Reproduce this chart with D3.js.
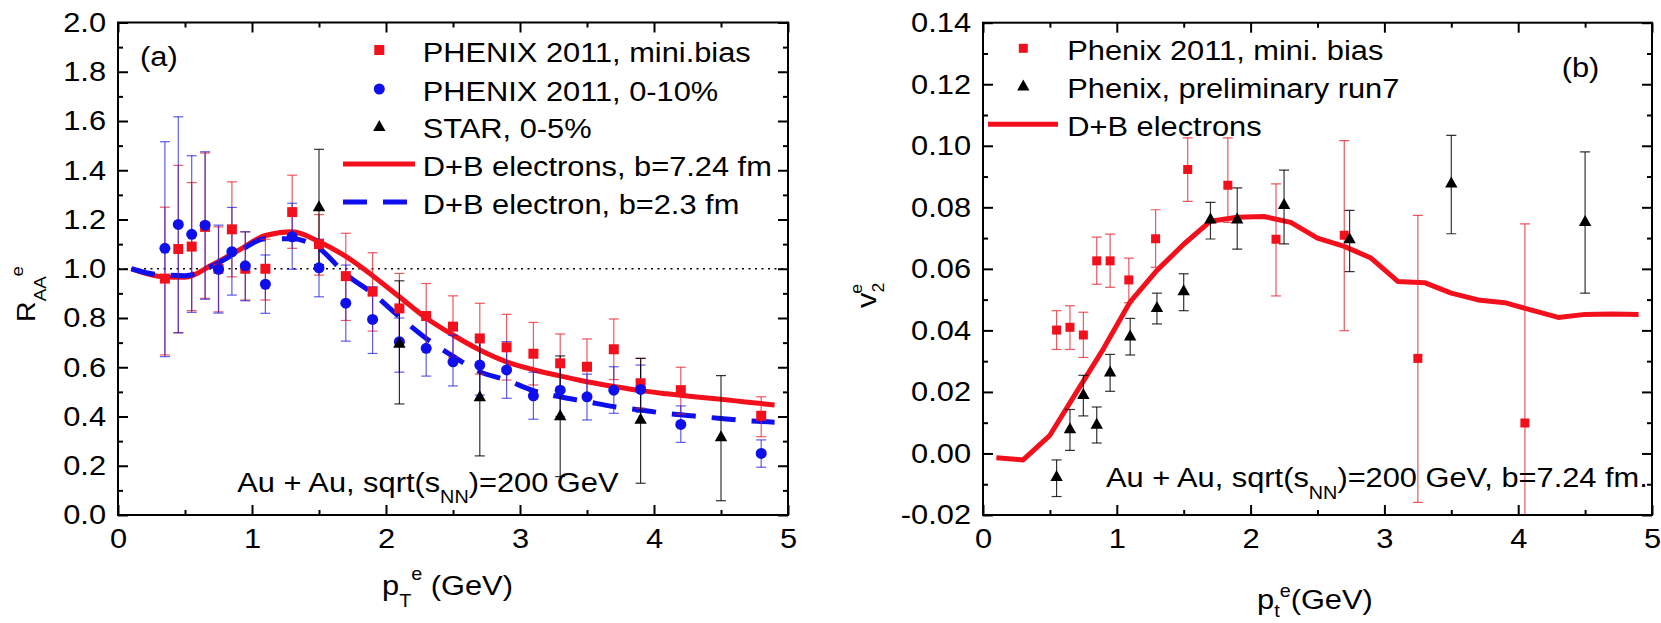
<!DOCTYPE html>
<html><head>
<meta charset="utf-8">
<title>Heavy flavour electrons: RAA and v2</title>
<script src="https://d3js.org/d3.v7.min.js"></script>
<style>
  body { margin: 0; background: #fff; }
  svg text { font-family: "Liberation Sans", Arial, Helvetica, sans-serif; fill: #000; }
</style>
</head>
<body>
<svg id="chart" width="1661" height="623"></svg>

<script>
// ---------- panel (a): R_AA of electrons ----------
const ptMB = [0.35,0.45,0.55,0.65,0.75,0.85,0.95,1.10,1.30,1.50,1.70,1.90,2.10,2.30,2.50,2.70,2.90,3.10,3.30,3.50,3.70,3.90,4.20,4.80];
const raaMB   = [0.96,1.08,1.09,1.17,1.00,1.16,1.00,1.00,1.23,1.10,0.97,0.907,0.839,0.808,0.765,0.717,0.681,0.655,0.616,0.602,0.673,0.535,0.507,0.403];
const raaMBlo = [0.65,0.74,0.83,0.88,0.825,0.967,0.873,0.873,1.083,0.974,0.79,0.747,0.70,0.68,0.64,0.572,0.548,0.528,0.498,0.49,0.55,0.434,0.41,0.318];
const raaMBhi = [1.25,1.42,1.35,1.47,1.17,1.353,1.15,1.12,1.38,1.22,1.144,1.065,0.981,0.94,0.89,0.86,0.815,0.782,0.735,0.715,0.796,0.636,0.60,0.48];

const ptCen = [0.35,0.45,0.55,0.65,0.75,0.85,0.95,1.10,1.30,1.50,1.70,1.90,2.10,2.30,2.50,2.70,2.90,3.10,3.30,3.50,3.70,3.90,4.20,4.80];
const raaCen   = [1.083,1.18,1.14,1.177,0.998,1.069,1.012,0.937,1.13,1.004,0.86,0.794,0.704,0.677,0.622,0.609,0.589,0.484,0.507,0.48,0.507,0.51,0.368,0.25];
const raaCenlo = [0.643,0.74,0.823,0.876,0.82,0.893,0.87,0.819,0.998,0.886,0.706,0.656,0.58,0.564,0.524,0.487,0.474,0.389,0.40,0.386,0.413,0.417,0.295,0.194];
const raaCenhi = [1.516,1.617,1.459,1.475,1.177,1.249,1.15,1.056,1.266,1.12,1.015,0.927,0.80,0.79,0.73,0.72,0.704,0.58,0.62,0.572,0.602,0.609,0.443,0.305];

const ptStar = [1.5,2.1,2.7,3.3,3.9,4.5];
const raaStar   = [1.252,0.697,0.48,0.403,0.389,0.318];
const raaStarlo = [1.017,0.451,0.24,0.156,0.129,0.058];
const raaStarhi = [1.485,0.951,0.72,0.646,0.636,0.566];

const ptCurve = [0.1,0.3,0.5,0.7,0.9,1.1,1.3,1.5,1.7,1.9,2.1,2.3,2.5,2.7,2.9,3.1,3.3,3.5,3.7,3.9,4.1,4.3,4.5,4.7,4.9];
const raaB724 = [1.0,0.97,0.965,1.015,1.075,1.135,1.15,1.11,1.05,0.972,0.886,0.80,0.731,0.67,0.622,0.59,0.565,0.541,0.522,0.505,0.492,0.48,0.47,0.458,0.447];
const raaB23  = [1.0,0.976,0.972,1.01,1.07,1.122,1.122,1.083,0.978,0.90,0.805,0.717,0.645,0.582,0.548,0.505,0.48,0.46,0.44,0.426,0.412,0.402,0.392,0.383,0.377];

const legendA = ["PHENIX 2011, mini.bias", "PHENIX 2011, 0-10%", "STAR, 0-5%", "D+B electrons, b=7.24 fm", "D+B electron, b=2.3 fm"];

// ---------- panel (b): v2 of electrons ----------
const ptV2MB = [0.55,0.65,0.75,0.85,0.95,1.09,1.29,1.53,1.83,2.19,2.70,3.25,4.05];
const v2MB   = [0.0401,0.0410,0.0385,0.0626,0.0626,0.0564,0.0698,0.0923,0.0872,0.0696,0.0709,0.0309,0.0099];
const v2MBlo = [0.0338,0.0338,0.0312,0.0550,0.0540,0.0490,0.0605,0.0819,0.0751,0.0512,0.0399,-0.0159,-0.0548];
const v2MBhi = [0.0464,0.0480,0.0459,0.0703,0.0713,0.0635,0.0792,0.1026,0.1026,0.0876,0.1017,0.0774,0.0746];

const ptRun7 = [0.55,0.65,0.75,0.85,0.95,1.10,1.30,1.50,1.70,1.90,2.25,2.74,3.50,4.50];
const v2Run7   = [-0.0075,0.0080,0.0192,0.0095,0.0265,0.0382,0.0474,0.0529,0.0762,0.0762,0.0809,0.0698,0.0879,0.0754];
const v2Run7lo = [-0.0140,0.0010,0.0122,0.0034,0.0202,0.0320,0.0421,0.0464,0.0697,0.0664,0.0681,0.0591,0.0714,0.0521];
const v2Run7hi = [-0.0021,0.0143,0.0254,0.0151,0.0322,0.0439,0.0521,0.0584,0.0816,0.0863,0.0921,0.0790,0.1034,0.0980];

const v2Curve = [-0.0014,-0.0021,0.0059,0.020,0.034,0.0493,0.0595,0.068,0.0755,0.0768,0.0770,0.0751,0.0700,0.0673,0.0635,0.0559,0.0555,0.0521,0.0499,0.0490,0.0466,0.0442,0.0452,0.0453,0.0452];

const legendB = ["Phenix 2011, mini. bias", "Phenix, preliminary run7", "D+B electrons"];

// ticks
const xMajor = [0,1,2,3,4,5];
const xMinor = [0.5,1.5,2.5,3.5,4.5];
const yMajorA = [0,0.2,0.4,0.6,0.8,1.0,1.2,1.4,1.6,1.8,2.0];
const yMinorA = [0.1,0.3,0.5,0.7,0.9,1.1,1.3,1.5,1.7,1.9];
const yMajorB = [-0.02,0,0.02,0.04,0.06,0.08,0.10,0.12,0.14];
const yMinorB = [-0.01,0.01,0.03,0.05,0.07,0.09,0.11,0.13];

const RED = "#f2101c", BLUE = "#0f0fee";
const SX = 1.1;   // text in the figure is a bit wide

const svg = d3.select("#chart");
svg.append("rect").attr("width", 1661).attr("height", 623).attr("fill", "#fff");

const xa = d3.scaleLinear().domain([0, 5]).range([118, 788]);
const ya = d3.scaleLinear().domain([0, 2]).range([515, 22.5]);
const xb = d3.scaleLinear().domain([0, 5]).range([983, 1652]);
const yb = d3.scaleLinear().domain([-0.02, 0.14]).range([515, 22.7]);

// text with sub/superscripts
function richText(parent, x, y, parts, o = {}) {
  const size = o.size || 28, small = o.small || 18;
  const g = parent.append("g")
    .attr("transform", `translate(${x},${y})` + (o.rotate ? " rotate(-90)" : "") + ` scale(${SX},1)`);
  const t = g.append("text").attr("font-size", size).attr("text-anchor", o.anchor || "start");
  let cur = 0;
  parts.forEach(p => {
    const shift = p.sub ? (o.sub || 11) : p.sup ? -(o.sup || 13) : 0;
    const ts = t.append("tspan").attr("dy", shift - cur).text(p.t);
    if (p.sub || p.sup) ts.attr("font-size", small);
    if (p.dx) ts.attr("dx", p.dx);
    cur = shift;
  });
  return g;
}

function drawAxes(x, y, yMajor, yMinor, yFmt) {
  const [x0, x1] = x.range(), [y0, y1] = y.range();
  const g = svg.append("g");
  const axes = [
    g.append("g").attr("transform", `translate(0,${y0})`)
      .call(d3.axisBottom(x).tickValues(xMajor).tickSize(-10).tickPadding(13).tickFormat(d3.format("d"))),
    g.append("g").attr("transform", `translate(0,${y0})`)
      .call(d3.axisBottom(x).tickValues(xMinor).tickSize(-5).tickFormat("")),
    g.append("g").attr("transform", `translate(0,${y1})`)
      .call(d3.axisTop(x).tickValues(xMajor).tickSize(-10).tickFormat("")),
    g.append("g").attr("transform", `translate(0,${y1})`)
      .call(d3.axisTop(x).tickValues(xMinor).tickSize(-5).tickFormat("")),
    g.append("g").attr("transform", `translate(${x0},0)`)
      .call(d3.axisLeft(y).tickValues(yMajor).tickSize(-10).tickPadding(12).tickFormat(yFmt)),
    g.append("g").attr("transform", `translate(${x0},0)`)
      .call(d3.axisLeft(y).tickValues(yMinor).tickSize(-5).tickFormat("")),
    g.append("g").attr("transform", `translate(${x1},0)`)
      .call(d3.axisRight(y).tickValues(yMajor).tickSize(-10).tickFormat("")),
    g.append("g").attr("transform", `translate(${x1},0)`)
      .call(d3.axisRight(y).tickValues(yMinor).tickSize(-5).tickFormat(""))
  ];
  axes.forEach(a => {
    a.attr("font-size", 28);
    a.select(".domain").remove();
    a.selectAll(".tick line").attr("stroke", "#000").attr("stroke-width", 2);
    a.selectAll(".tick text").attr("transform", `scale(${SX},1)`);
  });
  axes[4].selectAll(".tick text").attr("x", -12 / SX);
  g.append("rect").attr("x", x0).attr("y", y1).attr("width", x1 - x0).attr("height", y0 - y1)
    .attr("fill", "none").attr("stroke", "#000").attr("stroke-width", 2);
}

function errorBars(g, x, y, xs, lo, hi, color, op) {
  const d = xs.map((v, i) => [v, lo[i], hi[i]]);
  const e = g.append("g").attr("stroke", color).attr("stroke-width", 1.2).attr("stroke-opacity", op);
  e.selectAll("line.v").data(d).join("line").attr("class", "v")
    .attr("x1", p => x(p[0])).attr("x2", p => x(p[0])).attr("y1", p => y(p[1])).attr("y2", p => y(p[2]));
  e.selectAll("line.lo").data(d).join("line").attr("class", "lo")
    .attr("x1", p => x(p[0]) - 5).attr("x2", p => x(p[0]) + 5).attr("y1", p => y(p[1])).attr("y2", p => y(p[1]));
  e.selectAll("line.hi").data(d).join("line").attr("class", "hi")
    .attr("x1", p => x(p[0]) - 5).attr("x2", p => x(p[0]) + 5).attr("y1", p => y(p[2])).attr("y2", p => y(p[2]));
}

const square = s => `M${-s/2},${-s/2}h${s}v${s}h${-s}Z`;
const triangle = "M0,-6.5L6.2,4.5L-6.2,4.5Z";

function markers(g, x, y, xs, ys, kind, color, size) {
  const d = xs.map((v, i) => [v, ys[i]]);
  const sel = g.append("g").selectAll("path").data(d).join("path")
    .attr("transform", p => `translate(${x(p[0])},${y(p[1])})`).attr("fill", color);
  if (kind === "square") sel.attr("d", square(size));
  else if (kind === "circle") sel.attr("d", d3.symbol(d3.symbolCircle, Math.PI * size * size)());
  else sel.attr("d", triangle);
}

// ================= panel (a) =================
const ga = svg.append("g");
ga.append("line").attr("x1", xa(0)).attr("x2", xa(5)).attr("y1", ya(1)).attr("y2", ya(1))
  .attr("stroke", "#000").attr("stroke-width", 1.6).attr("stroke-dasharray", "2,4.5");

const smooth = (x, y) => d3.line().x(d => x(d[0])).y(d => y(d[1])).curve(d3.curveMonotoneX);
ga.append("path").datum(ptCurve.map((v, i) => [v, raaB724[i]]))
  .attr("d", smooth(xa, ya)).attr("fill", "none").attr("stroke", RED).attr("stroke-width", 5);
ga.append("path").datum(ptCurve.map((v, i) => [v, raaB23[i]]))
  .attr("d", smooth(xa, ya)).attr("fill", "none").attr("stroke", BLUE).attr("stroke-width", 5)
  .attr("stroke-dasharray", "24,16");

errorBars(ga, xa, ya, ptMB, raaMBlo, raaMBhi, "#e8202c", 0.75);
errorBars(ga, xa, ya, ptCen, raaCenlo, raaCenhi, "#1a1ae0", 0.7);
errorBars(ga, xa, ya, ptStar, raaStarlo, raaStarhi, "#000", 0.8);
markers(ga, xa, ya, ptMB, raaMB, "square", RED, 10);
markers(ga, xa, ya, ptCen, raaCen, "circle", BLUE, 5.5);
markers(ga, xa, ya, ptStar, raaStar, "triangle", "#000");

drawAxes(xa, ya, yMajorA, yMinorA, d3.format(".1f"));

// legend (a)
const rowsA = [50, 89, 126.5, 164, 202];
const lgA = svg.append("g");
lgA.append("path").attr("d", square(10)).attr("transform", `translate(379.3,${rowsA[0]})`).attr("fill", RED);
lgA.append("path").attr("d", d3.symbol(d3.symbolCircle, Math.PI * 5.5 * 5.5)()).attr("transform", `translate(379.3,${rowsA[1]})`).attr("fill", BLUE);
lgA.append("path").attr("d", triangle).attr("transform", `translate(379.3,${rowsA[2]})`).attr("fill", "#000");
lgA.append("line").attr("x1", 343).attr("x2", 415).attr("y1", rowsA[3]).attr("y2", rowsA[3]).attr("stroke", RED).attr("stroke-width", 5);
lgA.append("line").attr("x1", 343).attr("x2", 415).attr("y1", rowsA[4]).attr("y2", rowsA[4]).attr("stroke", BLUE).attr("stroke-width", 5).attr("stroke-dasharray", "24,16");
legendA.forEach((s, i) => richText(lgA, 422.7, rowsA[i] + 11.5, [{t: s}]));

richText(svg, 140, 66, [{t: "(a)"}]);
richText(svg, 237.3, 491.7, [{t: "Au + Au, sqrt(s"}, {t: "NN", sub: true}, {t: ")=200 GeV"}], {sub: 11.6});

// axis titles (a)
richText(svg, 382, 595, [{t: "p"}, {t: "T", sub: true}, {t: "e", sup: true}, {t: " (GeV)"}], {sub: 12, sup: 15});
richText(svg, 35, 322, [{t: "R"}, {t: "AA", sub: true}, {t: "e", sup: true}], {rotate: true, size: 26, small: 17, sub: 11, sup: 12});

// ================= panel (b) =================
svg.append("clipPath").attr("id", "clipB").append("rect")
  .attr("x", xb(0)).attr("y", yb(0.14)).attr("width", xb(5) - xb(0)).attr("height", yb(-0.02) - yb(0.14));
const gb = svg.append("g").attr("clip-path", "url(#clipB)");

gb.append("path").datum(ptCurve.map((v, i) => [v, v2Curve[i]]))
  .attr("d", d3.line().x(d => xb(d[0])).y(d => yb(d[1])))
  .attr("fill", "none").attr("stroke", RED).attr("stroke-width", 5).attr("stroke-linejoin", "round");

errorBars(gb, xb, yb, ptV2MB, v2MBlo, v2MBhi, "#e8202c", 0.75);
errorBars(gb, xb, yb, ptRun7, v2Run7lo, v2Run7hi, "#000", 0.8);
markers(gb, xb, yb, ptV2MB, v2MB, "square", RED, 9);
markers(gb, xb, yb, ptRun7, v2Run7, "triangle", "#000");

drawAxes(xb, yb, yMajorB, yMinorB, d => d.toFixed(2));

// legend (b)
const rowsB = [48.3, 86, 124.3];
const lgB = svg.append("g");
lgB.append("path").attr("d", square(9)).attr("transform", `translate(1023.3,${rowsB[0]})`).attr("fill", RED);
lgB.append("path").attr("d", triangle).attr("transform", `translate(1023.3,${rowsB[1]})`).attr("fill", "#000");
lgB.append("line").attr("x1", 988).attr("x2", 1058).attr("y1", rowsB[2]).attr("y2", rowsB[2]).attr("stroke", RED).attr("stroke-width", 5);
legendB.forEach((s, i) => richText(lgB, 1067.3, rowsB[i] + 11.5, [{t: s}]));

richText(svg, 1561.7, 77, [{t: "(b)"}]);
richText(svg, 1106, 487.3, [{t: "Au + Au, sqrt(s"}, {t: "NN", sub: true}, {t: ")=200 GeV, b=7.24 fm."}], {sub: 11.6});

// axis titles (b)
richText(svg, 1257, 609, [{t: "p"}, {t: "t", sub: true}, {t: "e", sup: true}, {t: "(GeV)"}], {sub: 8, sup: 12});
richText(svg, 876, 308, [{t: "v"}, {t: "2", sub: true}, {t: "e", sup: true, dx: -10}], {rotate: true, size: 28, small: 16, sub: 8, sup: 14});
</script>
</body>
</html>
